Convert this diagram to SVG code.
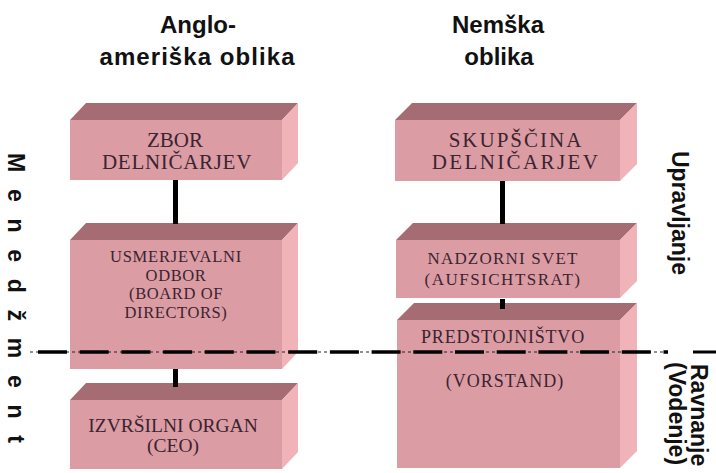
<svg xmlns="http://www.w3.org/2000/svg" width="716" height="473" viewBox="0 0 716 473">
<style>
.front{fill:#dc9ca4}
.top{fill:#a66c74}
.side{fill:#efb3b8}
.bt{font-family:"Liberation Serif","Times New Roman",serif;fill:#3a2430;text-anchor:middle}
.hd{font-family:"Liberation Sans",Arial,sans-serif;font-weight:bold;fill:#111;text-anchor:middle;font-size:24px}
.vt{font-family:"Liberation Sans",Arial,sans-serif;font-weight:bold;fill:#111;font-size:23px}
.con{fill:#000}
</style>
<rect width="716" height="473" fill="#fff"/>
<g id="titles">
<text class="hd" x="198" y="33">Anglo-</text>
<text class="hd" x="197" y="65" textLength="195">ameriška oblika</text>
<text class="hd" x="498" y="33">Nemška</text>
<text class="hd" x="499" y="65">oblika</text>
</g>
<g id="zbor">
<polygon class="top" points="70,120 86,103 298,103 282,120"/>
<polygon class="side" points="282,120 298,103 298,163 282,180"/>
<rect class="front" x="70" y="120" width="212" height="60"/>
<text class="bt" font-size="21" x="175" y="147">ZBOR</text>
<text class="bt" font-size="21" x="177" y="169" letter-spacing="0.7">DELNIČARJEV</text>
</g>
<g id="usmerjevalni">
<polygon class="top" points="70,240 86,223 298,223 282,240"/>
<polygon class="side" points="282,240 298,223 298,352 282,369"/>
<rect class="front" x="70" y="240" width="212" height="129"/>
<text class="bt" font-size="16.5" x="176" y="262" letter-spacing="0.8">USMERJEVALNI</text>
<text class="bt" font-size="16.5" x="176" y="280.5" letter-spacing="0.6">ODBOR</text>
<text class="bt" font-size="16.5" x="176" y="299" letter-spacing="0.6">(BOARD OF</text>
<text class="bt" font-size="16.5" x="176" y="317.5" letter-spacing="0.6">DIRECTORS)</text>
</g>
<g id="izvrsilni">
<polygon class="top" points="70,400 86,383 298,383 282,400"/>
<polygon class="side" points="282,400 298,383 298,452 282,469"/>
<rect class="front" x="70" y="400" width="212" height="69"/>
<text class="bt" font-size="19.5" x="173" y="432">IZVRŠILNI ORGAN</text>
<text class="bt" font-size="19.5" x="173" y="452">(CEO)</text>
</g>
<g id="skupscina">
<polygon class="top" points="395,120 412,103 637,103 620,120"/>
<polygon class="side" points="620,120 637,103 637,164 620,181"/>
<rect class="front" x="395" y="120" width="225" height="61"/>
<text class="bt" font-size="21" x="516" y="147" letter-spacing="2">SKUPŠČINA</text>
<text class="bt" font-size="21" x="516" y="169" letter-spacing="2.4">DELNIČARJEV</text>
</g>
<g id="nadzorni">
<polygon class="top" points="396,240 413,223 637,223 620,240"/>
<polygon class="side" points="620,240 637,223 637,281 620,298"/>
<rect class="front" x="396" y="240" width="224" height="58"/>
<text class="bt" font-size="17" x="503" y="264" letter-spacing="1.2">NADZORNI SVET</text>
<text class="bt" font-size="17" x="503" y="285" letter-spacing="1.5">(AUFSICHTSRAT)</text>
</g>
<g id="predstojnistvo">
<polygon class="top" points="397,320 414,303 637,303 620,320"/>
<polygon class="side" points="620,320 637,303 637,451 620,468"/>
<rect class="front" x="397" y="320" width="223" height="148"/>
<text class="bt" font-size="18" x="503" y="343" letter-spacing="0.8">PREDSTOJNIŠTVO</text>
<text class="bt" font-size="18" x="505" y="387" letter-spacing="1">(VORSTAND)</text>
</g>
<g id="connectors">
<rect class="con" x="173" y="180" width="5" height="44"/>
<rect class="con" x="173" y="369" width="5" height="18"/>
<rect class="con" x="500" y="181" width="5" height="43"/>
<rect class="con" x="500" y="299" width="5" height="10"/>
</g>
<g id="divider">
<line x1="30" y1="352" x2="668" y2="352" stroke="#222" stroke-width="1.2" stroke-dasharray="3 3"/>
<line x1="38" y1="352" x2="668" y2="352" stroke="#000" stroke-width="3.5" stroke-dasharray="29 12.7"/>
<line x1="693" y1="352" x2="716" y2="352" stroke="#000" stroke-width="3"/>
</g>
<g id="side-labels">
<text class="vt" font-size="24" transform="translate(8,153) rotate(90)" textLength="290" lengthAdjust="spacing">M e n e d ž m e n t</text>
<text class="vt" transform="translate(672,151) rotate(90)">Upravljanje</text>
<text class="vt" transform="translate(691,364) rotate(90)">Ravnanje</text>
<text class="vt" transform="translate(669,362) rotate(90)">(Vodenje)</text>
</g>
</svg>
